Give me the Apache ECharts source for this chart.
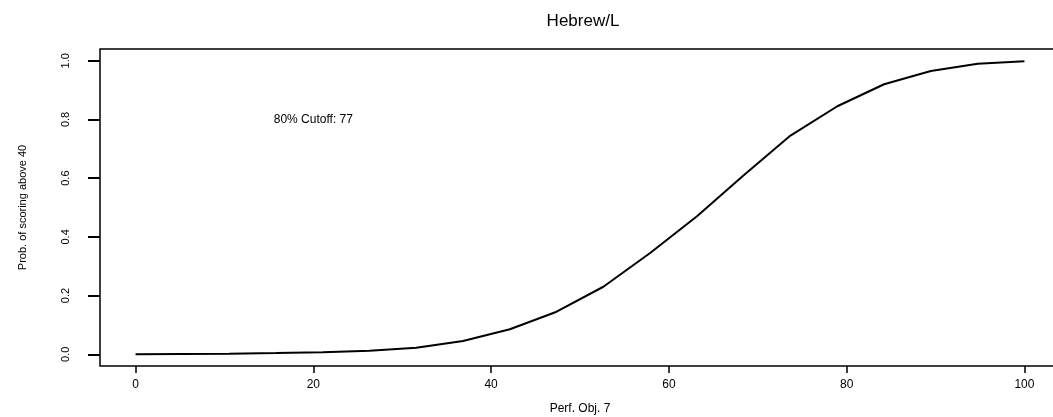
<!DOCTYPE html>
<html>
<head>
<meta charset="utf-8">
<script src="https://cdn.jsdelivr.net/npm/echarts@6/dist/echarts.min.js"></script>
<style>
    html, body { margin: 0; padding: 0; background: #fff; }
    #chart { width: 1053px; height: 417px; }
</style>
</head>
<body>
<div id="chart"></div>
<script>
// scores on Perf. Obj. 7 where the curve was evaluated
const scores = [0, 5.26, 10.53, 15.79, 21.05, 26.32, 31.58, 36.84, 42.11, 47.37,
    52.63, 57.89, 63.16, 68.42, 73.68, 78.95, 84.21, 89.47, 94.74, 100];
// probability of scoring above 40
const probs = [0.000, 0.001, 0.002, 0.004, 0.007, 0.012, 0.022, 0.045, 0.085, 0.145,
    0.23, 0.345, 0.47, 0.61, 0.745, 0.845, 0.92, 0.965, 0.99, 0.998];
const xTicks = [0, 20, 40, 60, 80, 100];
const yTicks = [0, 0.2, 0.4, 0.6, 0.8, 1.0];
const cutoffText = '80% Cutoff: 77';
const cutoffPos = [20, 0.8];

let myChart = echarts.init(document.getElementById('chart'));

const font = 'Liberation Sans, Arial, Helvetica, sans-serif';

let option = {
    animation: false,
    title: {
        text: 'Hebrew/L',
        left: 578,
        textAlign: 'center',
        top: 8,
        textStyle: { fontFamily: font, fontSize: 17, fontWeight: 'normal', color: '#000' }
    },
    grid: {
        left: 100,
        right: -7,   // right edge of the box falls just past the window
        top: 49,
        bottom: 51,
        outerBoundsMode: 'none',
        containLabel: false,
        show: true,
        borderColor: '#000',
        borderWidth: 1.5,
        backgroundColor: 'transparent'
    },
    xAxis: {
        type: 'value',
        min: -4,
        max: 104,
        name: 'Perf. Obj. 7',
        nameLocation: 'middle',
        nameGap: 37,
        nameTextStyle: { fontFamily: font, fontSize: 12, color: '#000' },
        axisLine: { show: false, onZero: false },
        splitLine: { show: false },
        axisTick: { show: true, length: 7, customValues: xTicks, lineStyle: { color: '#000', width: 1.5 } },
        axisLabel: { customValues: xTicks, margin: 13, fontFamily: font, fontSize: 12, color: '#000' }
    },
    yAxis: {
        type: 'value',
        min: -0.04,
        max: 1.04,
        name: 'Prob. of scoring above 40',
        nameLocation: 'middle',
        nameGap: 72,
        nameTextStyle: { fontFamily: font, fontSize: 11, color: '#000' },
        axisLine: { show: false, onZero: false },
        splitLine: { show: false },
        axisTick: { show: true, length: 12, customValues: yTicks, lineStyle: { color: '#000', width: 2 } },
        axisLabel: {
            customValues: yTicks,
            rotate: 90,
            margin: 29,
            fontFamily: font,
            fontSize: 11,
            color: '#000',
            formatter: v => v.toFixed(1)
        }
    },
    series: [
        {
            type: 'line',
            data: scores.map((x, i) => [x, probs[i]]),
            showSymbol: false,
            lineStyle: { color: '#000', width: 2 },
            markPoint: {
                symbol: 'circle',
                symbolSize: 0,
                data: [{ coord: cutoffPos }],
                label: {
                    show: true,
                    position: 'inside',
                    formatter: cutoffText,
                    fontFamily: font,
                    fontSize: 12,
                    color: '#000'
                }
            }
        }
    ]
};
myChart.setOption(option);

window.addEventListener('resize', () => {
    myChart.resize()
})
</script>
</body>
</html>
